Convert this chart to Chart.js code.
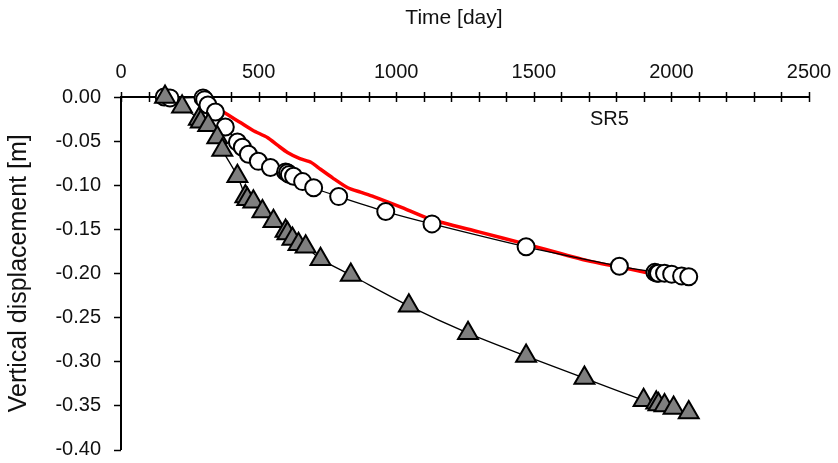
<!DOCTYPE html>
<html>
<head>
<meta charset="utf-8">
<script src="https://cdn.jsdelivr.net/npm/chart.js@4"></script>
<style>
    html, body { margin: 0; padding: 0; background: #fff; }
    #wrap { width: 838px; height: 463px; }
</style>
</head>
<body>
<div id="wrap"><canvas id="settlementChart"></canvas></div>
<script>
// Settlement record SR5: measured points, second gauge and computed curve
const circleDays = [157, 178, 298, 304, 316, 343, 379, 423, 441, 463, 499, 543, 598, 605, 612, 627, 660, 700, 791, 962, 1130, 1472, 1811, 1940, 1948, 1953, 1975, 2001, 2037, 2063];
const circleDisp = [0, -0.001, -0.001, -0.003, -0.009, -0.017, -0.034, -0.051, -0.057, -0.065, -0.073, -0.080, -0.085, -0.086, -0.088, -0.090, -0.096, -0.103, -0.113, -0.130, -0.144, -0.170, -0.192, -0.199, -0.200, -0.200, -0.200, -0.201, -0.203, -0.204];

const triangleDays = [160, 222, 283, 290, 317, 350, 368, 423, 452, 459, 481, 514, 554, 598, 605, 623, 645, 671, 725, 835, 1046, 1261, 1472, 1684, 1899, 1945, 1953, 1975, 2008, 2063];
const triangleDisp = [0, -0.011, -0.025, -0.028, -0.032, -0.046, -0.060, -0.090, -0.113, -0.116, -0.119, -0.130, -0.141, -0.152, -0.155, -0.161, -0.167, -0.170, -0.184, -0.202, -0.237, -0.268, -0.294, -0.319, -0.344, -0.347, -0.349, -0.350, -0.353, -0.358];

const redDays = [290, 330, 372, 434, 480, 532, 570, 605, 650, 690, 725, 770, 824, 870, 918, 1017, 1126, 1300, 1472, 1698, 1891, 1950];
const redDisp = [0, -0.008, -0.017, -0.029, -0.038, -0.046, -0.055, -0.063, -0.070, -0.074, -0.082, -0.092, -0.103, -0.108, -0.113, -0.125, -0.139, -0.153, -0.167, -0.186, -0.198, -0.202];

const xTickLabels = [0, 500, 1000, 1500, 2000, 2500];
const yMin = -0.40, yMax = 0.00, yStep = 0.05;
const seriesLabel = 'SR5';

function toPoints(xs, ys) {
    return xs.map((x, i) => ({ x: x, y: ys[i] }));
}

const FONT = 'Liberation Sans, Arial, sans-serif';

// tick marks: x ticks cross the axis line, y ticks point outwards
const axisTicks = {
    id: 'axisTicks',
    beforeDatasetsDraw(chart) {
        const { ctx, scales: { x, y } } = chart;
        ctx.save();
        ctx.strokeStyle = '#000';
        ctx.lineWidth = 1.5;
        x.ticks.forEach(t => {
            const px = Math.round(x.getPixelForValue(t.value)) + 0.5;
            ctx.beginPath();
            ctx.moveTo(px, y.top - 5);
            ctx.lineTo(px, y.top + 5);
            ctx.stroke();
        });
        y.ticks.forEach(t => {
            const py = Math.round(y.getPixelForValue(t.value)) + 0.5;
            ctx.beginPath();
            ctx.moveTo(x.left - 7, py);
            ctx.lineTo(x.left, py);
            ctx.stroke();
        });
        ctx.restore();
    }
};

// axis title above the top axis and the series name inside the plot
const labels = {
    id: 'labels',
    afterDatasetsDraw(chart) {
        const { ctx, scales: { x, y } } = chart;
        ctx.save();
        ctx.fillStyle = '#111';
        ctx.textAlign = 'center';
        ctx.textBaseline = 'middle';
        ctx.font = '21px ' + FONT;
        ctx.fillText('Time [day]', x.getPixelForValue(1210), 18);
        ctx.font = '20px ' + FONT;
        ctx.fillText(seriesLabel, x.getPixelForValue(1775), y.getPixelForValue(-0.026));
        ctx.restore();
    }
};

new Chart(document.getElementById('settlementChart'), {
    type: 'scatter',
    data: {
        datasets: [{
            data: toPoints(triangleDays, triangleDisp),
            showLine: true,
            borderColor: '#000',
            borderWidth: 1.3,
            tension: 0.3,
            pointStyle: 'triangle',
            pointRadius: 11.5,
            pointBorderWidth: 2,
            pointBackgroundColor: '#7f7f7f',
            pointBorderColor: '#000',
            clip: false
        }, {
            data: toPoints(circleDays, circleDisp),
            showLine: true,
            borderColor: '#000',
            borderWidth: 1.3,
            tension: 0.3,
            pointStyle: 'circle',
            pointRadius: 8.5,
            pointBorderWidth: 2,
            pointBackgroundColor: '#fff',
            pointBorderColor: '#000',
            clip: false
        }, {
            data: toPoints(redDays, redDisp),
            showLine: true,
            borderColor: '#ff0000',
            borderWidth: 3.5,
            tension: 0.2,
            pointRadius: 0,
            clip: false
        }]
    },
    options: {
        responsive: true,
        maintainAspectRatio: false,
        animation: false,
        layout: { padding: { left: 4, right: 29, top: 4, bottom: 0 } },
        plugins: {
            legend: { display: false },
            tooltip: { enabled: false }
        },
        scales: {
            x: {
                type: 'linear',
                position: 'top',
                min: 0,
                max: 2500,
                afterBuildTicks: scale => {
                    scale.ticks = [];
                    for (let v = 0; v <= 2500; v += 100) scale.ticks.push({ value: v });
                },
                ticks: {
                    autoSkip: false,
                    maxRotation: 0,
                    padding: 5,
                    color: '#111',
                    font: { family: FONT, size: 20 },
                    callback: v => xTickLabels.includes(v) ? String(v) : ''
                },
                grid: { display: false },
                border: { display: true, color: '#000', width: 2 },
                afterFit: scale => { scale.height = 93; }
            },
            y: {
                type: 'linear',
                min: yMin,
                max: yMax,
                ticks: {
                    stepSize: yStep,
                    padding: 0,
                    color: '#111',
                    font: { family: FONT, size: 20, lineHeight: 1.05 },
                    callback: v => (Math.abs(v) < 1e-9 ? 0 : v).toFixed(2)
                },
                grid: {
                    drawOnChartArea: false,
                    drawTicks: true,
                    tickLength: 20,
                    tickColor: 'rgba(0,0,0,0)'
                },
                border: { display: true, color: '#000', width: 2 },
                title: {
                    display: true,
                    text: 'Vertical displacement [m]',
                    color: '#111',
                    font: { family: FONT, size: 25 },
                    padding: { top: 0, bottom: 3 }
                },
                afterFit: scale => { scale.width = 117; }
            }
        }
    },
    plugins: [axisTicks, labels]
});
</script>
</body>
</html>
